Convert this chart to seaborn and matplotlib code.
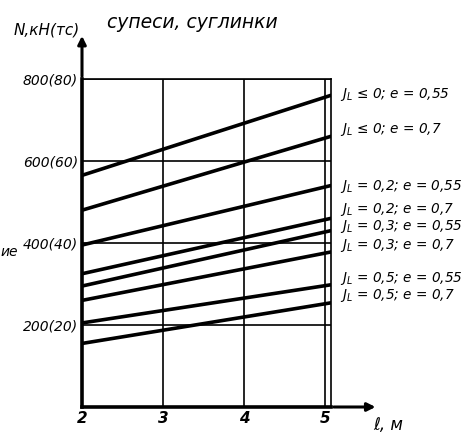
import numpy as np
import pandas as pd
import matplotlib
matplotlib.use('Agg')
import matplotlib.pyplot as plt
import seaborn as sns

# Несущая способность N для супесей и суглинков
length = [2, 5.07]
curves = ['J$_L$ ≤ 0; e = 0,55', 'J$_L$ ≤ 0; e = 0,7', 'J$_L$ = 0,2; e = 0,55',
          'J$_L$ = 0,2; e = 0,7', 'J$_L$ = 0,3; e = 0,55', 'J$_L$ = 0,3; e = 0,7',
          'J$_L$ = 0,5; e = 0,55', 'J$_L$ = 0,5; e = 0,7']
n_at_2 = [565, 480, 395, 325, 295, 260, 205, 155]
n_at_5 = [760, 660, 540, 460, 430, 378, 298, 254]
y_ticks = [200, 400, 600, 800]
y_ticklabels = ['200(20)', '400(40)', '600(60)', '800(80)']
x_ticks = [2, 3, 4, 5]

# позиции подписей справа (кН)
label_y = [761, 676, 539, 482, 441, 395, 314, 271]

rows = []
for name, a, b in zip(curves, n_at_2, n_at_5):
    rows.append({'curve': name, 'l': length[0], 'N': a})
    rows.append({'curve': name, 'l': length[1], 'N': b})
df = pd.DataFrame(rows)

sns.set_style('white')
plt.rcParams['font.family'] = ['DejaVu Sans']
plt.rcParams['font.style'] = 'italic'
plt.rcParams['text.color'] = 'black'
plt.rcParams['xtick.color'] = 'black'
plt.rcParams['ytick.color'] = 'black'

fig = plt.figure(figsize=(4.67, 4.42), dpi=100)
ax = fig.add_axes([82 / 467, 1 - 407 / 442, 249 / 467, 328 / 442])

# сетка
for v in [3, 4, 5]:
    ax.axvline(v, color='black', lw=1.2, zorder=1)
for h in y_ticks:
    ax.axhline(h, color='black', lw=1.2, zorder=1)

sns.lineplot(data=df, x='l', y='N', units='curve', estimator=None,
             color='black', lw=2.6, ax=ax, zorder=3)

ax.set_xlim(2, 5.074)
ax.set_ylim(0, 800)
ax.set_xticks(x_ticks)
ax.set_xticklabels([str(t) for t in x_ticks], fontsize=11, fontweight='bold')
ax.set_yticks(y_ticks)
ax.set_yticklabels(y_ticklabels, fontsize=10)
ax.tick_params(length=0, pad=3)
ax.set_xlabel('')
ax.set_ylabel('')

for side in ['left', 'bottom']:
    ax.spines[side].set_linewidth(2.6)
    ax.spines[side].set_color('black')
for side in ['right', 'top']:
    ax.spines[side].set_linewidth(1.2)
    ax.spines[side].set_color('black')

# стрелки осей
ax.annotate('', xy=(1.19, 0), xytext=(1.0, 0), xycoords='axes fraction',
            arrowprops=dict(arrowstyle='-|>', color='black', lw=2.2, mutation_scale=12))
ax.annotate('', xy=(0, 1.14), xytext=(0, 1.0), xycoords='axes fraction',
            arrowprops=dict(arrowstyle='-|>', color='black', lw=2.2, mutation_scale=12))

for name, y in zip(curves, label_y):
    ax.text(5.19, y, name, fontsize=9.8, va='center', ha='left', clip_on=False)

fig.text(0.03, 1 - 30 / 442, 'N,кН(тс)', fontsize=11, va='center', ha='left')
fig.text(0.23, 1 - 22 / 442, 'супеси, суглинки', fontsize=13.5, va='center', ha='left')
fig.text(0.80, 1 - 425 / 442, 'ℓ, м', fontsize=12, va='center', ha='left')
fig.text(0.0, 1 - 252 / 442, 'ие', fontsize=10, va='center', ha='left')

plt.savefig('out.png', dpi=100)
